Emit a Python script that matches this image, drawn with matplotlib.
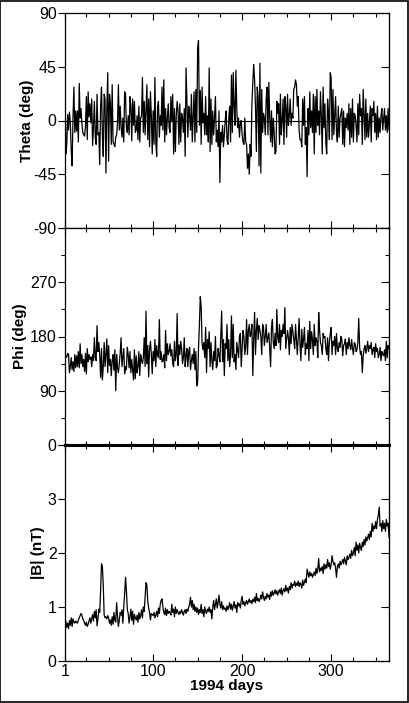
import numpy as np
import matplotlib.pyplot as plt
from matplotlib.ticker import MultipleLocator, FixedLocator

plt.rcParams['font.family'] = ['Liberation Sans', 'DejaVu Sans']

# daily values, 1994
theta = [
    27, -28, -20, 5, -8, 7, -2, -25, -38, 3, 28, -10, 8, -9, 8, -18, 31, 2, 10, -3,
    -10, -12, -13, -5, 20, -16, 24, 3, 14, -2, 18, -21, -5, 16, -14, -20, 22, -12, -10, -37,
    12, 28, -12, -30, 22, 18, -44, 10, 40, -34, 22, 14, -20, 30, -18, -20, -22, -14, -12, -2,
    30, -8, 12, -5, -14, 2, -18, 24, 22, -6, -10, 4, -12, 20, 12, -17, 18, -4, 16, -10,
    -8, 4, -16, 12, -18, 2, 4, 36, -10, 16, -12, 10, 30, -16, 18, -22, 24, 4, -28, 8,
    -20, 36, -18, -30, 12, 16, -14, 4, -4, 28, -8, 34, -18, 10, -12, 2, 14, -6, -10, 20,
    0, 22, -28, 10, -26, 4, 16, 8, -20, 14, -18, 6, 2, -10, 10, -30, 44, 14, -14, 12,
    4, -8, 22, -18, 2, 24, -18, 26, -10, 60, 67, -4, 25, -20, 28, -2, 6, -12, 20, -12,
    4, -18, 44, -26, 18, -20, 8, -12, 2, 20, -18, -8, -22, 8, -52, -10, -18, -4, -22, -12,
    0, 8, -16, -20, 2, 12, -18, 38, -10, 40, 12, -4, 42, 10, -6, 2, -14, -2, 0, -12,
    -18, -20, 2, -18, -20, -40, -28, -45, -20, -30, 14, 32, 47, 34, 12, -26, 28, 20, -38, 48,
    -44, 26, -10, 6, 2, -12, 18, 28, -12, 32, 2, -18, 8, -22, 2, -10, -28, -26, 16, 6,
    14, -20, 22, -12, 0, 18, -20, 20, 12, -14, 22, -4, 4, 18, -4, 6, 2, 26, 28, 34,
    30, 12, 20, -8, -16, -16, -22, 18, -4, 20, -20, -6, -47, 10, -12, 24, -6, 8, -10, 22,
    -28, 20, -10, 26, -4, 8, -12, 24, 4, -28, 28, -6, 14, -18, -28, 18, 6, -16, 40, 36,
    -16, 26, -12, 4, 20, -10, -18, 12, -14, 2, 6, 10, -20, 8, -22, 2, -6, 6, -8, 14,
    -20, 10, -14, 18, -18, 6, 4, -4, -18, 14, -12, 22, 4, 10, -20, 26, 4, -16, 18, -14,
    6, -14, -2, 12, -18, 10, 4, 16, -10, 6, -16, 12, -14, 2, -10, 4, 10, -8, 2, 10,
    -8, 4, -10, 10, -8,
]

phi = [
    140, 148, 146, 152, 150, 120, 130, 145, 125, 138, 122, 150, 128, 148, 130, 155, 128, 168, 135, 150,
    130, 142, 122, 152, 118, 160, 138, 150, 142, 146, 130, 150, 140, 178, 145, 140, 198, 155, 170, 150,
    112, 160, 108, 130, 170, 130, 150, 176, 120, 165, 132, 142, 115, 140, 150, 124, 158, 90, 150, 128,
    120, 135, 152, 178, 130, 146, 160, 118, 130, 125, 162, 150, 128, 155, 120, 142, 125, 108, 158, 110,
    148, 120, 130, 155, 115, 150, 140, 135, 145, 178, 130, 222, 135, 165, 113, 160, 172, 150, 118, 155,
    140, 175, 130, 165, 150, 145, 208, 142, 155, 138, 140, 150, 128, 190, 140, 168, 150, 155, 168, 148,
    158, 135, 130, 172, 140, 150, 218, 132, 166, 150, 172, 160, 135, 145, 178, 130, 148, 160, 130, 155,
    162, 125, 140, 150, 135, 160, 125, 155, 98, 104, 160, 200, 246, 228, 168, 158, 170, 145, 195, 120,
    175, 160, 188, 130, 170, 140, 125, 155, 140, 180, 128, 132, 160, 150, 138, 178, 222, 138, 175, 115,
    168, 160, 200, 140, 175, 130, 150, 214, 145, 200, 138, 150, 125, 170, 158, 145, 180, 185, 130, 160,
    190, 180, 150, 165, 208, 150, 190, 200, 180, 185, 200, 115, 178, 220, 150, 190, 210, 175, 198, 190,
    180, 150, 200, 195, 165, 180, 200, 170, 178, 186, 160, 130, 195, 208, 170, 160, 185, 165, 225, 178,
    170, 200, 158, 190, 180, 200, 185, 228, 160, 175, 190, 178, 150, 195, 168, 200, 188, 175, 160, 200,
    175, 150, 178, 210, 168, 140, 192, 162, 175, 195, 150, 168, 160, 190, 140, 205, 160, 188, 175, 150,
    200, 165, 178, 172, 145, 220, 190, 170, 165, 150, 185, 178, 180, 160, 150, 178, 140, 170, 185, 195,
    150, 172, 165, 180, 150, 185, 160, 155, 170, 162, 180, 175, 148, 165, 168, 176, 150, 170, 160, 178,
    165, 158, 175, 160, 150, 170, 168, 155, 158, 170, 210, 162, 150, 155, 120, 148, 160, 165, 152, 160,
    172, 155, 165, 160, 170, 150, 158, 162, 145, 168, 155, 160, 145, 150, 162, 140, 155, 150, 148, 158,
    140, 172, 145, 165, 160,
]

bmag = [
    0.72, 0.74, 0.62, 0.70, 0.60, 0.75, 0.66, 0.80, 0.64, 0.78, 0.72, 0.70, 0.74, 0.72, 0.70, 0.76, 0.80, 0.84, 0.88, 0.85,
    0.78, 0.75, 0.70, 0.66, 0.72, 0.64, 0.68, 0.74, 0.80, 0.70, 0.78, 0.86, 0.74, 0.92, 0.80, 0.95, 0.65, 0.78, 0.96, 0.90,
    1.30, 1.80, 1.75, 1.40, 0.85, 0.80, 0.82, 0.78, 0.84, 0.80, 0.70, 0.76, 0.66, 0.82, 0.68, 0.90, 0.75, 0.72, 1.08, 0.82,
    0.64, 0.76, 0.90, 0.85, 0.95, 0.70, 1.00, 1.25, 1.55, 1.30, 0.95, 0.88, 0.70, 0.82, 0.96, 0.75, 0.92, 0.68, 0.86, 0.80,
    0.76, 0.85, 0.72, 0.90, 0.78, 0.84, 0.95, 0.80, 1.00, 0.92, 1.20, 1.45, 1.40, 1.10, 0.98, 0.90, 0.76, 0.88, 0.86, 0.84,
    0.90, 0.80, 0.85, 0.92, 0.82, 0.98, 0.88, 1.05, 1.12, 1.15, 1.00, 0.90, 0.86, 0.98, 0.84, 0.95, 0.88, 0.92, 0.90, 0.85,
    1.05, 0.90, 0.96, 0.82, 1.00, 0.88, 0.95, 0.90, 0.86, 0.92, 0.88, 0.95, 0.90, 0.85, 0.92, 0.95, 0.88, 0.96, 0.92, 1.00,
    1.05, 1.18, 1.00, 1.12, 0.95, 1.05, 0.92, 1.00, 0.90, 0.98, 0.86, 0.95, 0.90, 1.05, 0.88, 0.95, 0.82, 1.00, 0.92, 0.88,
    0.96, 0.92, 1.00, 0.90, 0.95, 0.78, 1.00, 1.12, 0.95, 1.05, 1.15, 0.98, 1.08, 1.22, 1.05, 0.98, 1.10, 0.95, 1.02, 0.96,
    0.98, 0.92, 1.02, 0.95, 1.00, 1.08, 0.96, 1.05, 0.94, 1.02, 1.10, 0.98, 1.04, 0.90, 1.08, 1.02, 1.06, 0.98, 1.12, 1.20,
    1.05, 1.10, 1.02, 1.08, 1.12, 1.05, 1.10, 1.15, 1.08, 1.12, 1.06, 1.14, 1.10, 1.18, 1.08, 1.25, 1.12, 1.16, 1.10, 1.14,
    1.22, 1.15, 1.28, 1.18, 1.12, 1.20, 1.15, 1.25, 1.18, 1.22, 1.14, 1.28, 1.20, 1.30, 1.22, 1.26, 1.32, 1.24, 1.30, 1.22,
    1.28, 1.32, 1.25, 1.35, 1.22, 1.30, 1.34, 1.28, 1.40, 1.30, 1.35, 1.26, 1.38, 1.32, 1.45, 1.35, 1.42, 1.40, 1.48, 1.38,
    1.44, 1.40, 1.48, 1.38, 1.45, 1.42, 1.35, 1.50, 1.40, 1.46, 1.52, 1.45, 1.70, 1.62, 1.55, 1.65, 1.58, 1.62, 1.55, 1.60,
    1.65, 1.58, 1.72, 1.62, 1.70, 1.90, 1.65, 1.72, 1.68, 1.75, 1.62, 1.80, 1.70, 1.78, 1.72, 1.88, 1.75, 1.82, 1.70, 1.78,
    1.95, 1.85, 1.78, 1.82, 1.72, 1.55, 1.75, 1.80, 1.72, 1.85, 1.78, 1.82, 1.88, 1.80, 1.92, 1.85, 1.78, 1.95, 1.88, 1.92,
    1.98, 1.90, 2.05, 1.95, 2.00, 2.10, 1.95, 2.20, 2.05, 2.15, 2.00, 2.18, 2.10, 2.05, 2.20, 2.12, 2.25, 2.15, 2.30, 2.22,
    2.28, 2.35, 2.25, 2.40, 2.30, 2.55, 2.40, 2.50, 2.45, 2.58, 2.45, 2.62, 2.70, 2.85, 2.50, 2.55, 2.40, 2.60, 2.45, 2.55,
    2.40, 2.62, 2.50, 2.55, 2.30,
]

days = np.arange(1, len(theta) + 1)
xticks = [1, 100, 200, 300]


def style_axis(ax, ylim, yticks, ylabels, yminor=None):
    ax.set_xlim(1, 365)
    ax.set_ylim(*ylim)
    ax.set_xticks(xticks)
    ax.xaxis.set_minor_locator(FixedLocator([25, 50, 75, 125, 150, 175, 225, 250, 275, 325, 350]))
    ax.set_yticks(yticks)
    ax.set_yticklabels(ylabels)
    if yminor:
        ax.yaxis.set_minor_locator(MultipleLocator(yminor))
    ax.tick_params(axis='x', which='both', direction='in', top=True, bottom=True)
    ax.tick_params(axis='x', which='major', length=5, width=0.8, labelsize=11.5, pad=2)
    ax.tick_params(axis='x', which='minor', length=3, width=0.8)
    ax.tick_params(axis='y', which='major', direction='out', length=5, width=0.8, labelsize=11.5, pad=1)
    ax.tick_params(axis='y', which='minor', direction='out', length=3, width=0.8)
    # right-hand ticks point inward
    sec = ax.secondary_yaxis('right')
    sec.set_yticks(yticks)
    sec.tick_params(axis='y', which='major', direction='in', length=6, width=0.8, labelright=False)
    if yminor:
        sec.yaxis.set_minor_locator(MultipleLocator(yminor))
        sec.tick_params(axis='y', which='minor', direction='in', length=3, width=0.8)
    for s in ax.spines.values():
        s.set_linewidth(0.9)


fig = plt.figure(figsize=(4.09, 7.03), dpi=100)
left, width = 65 / 409, 324 / 409

ax1 = fig.add_axes([left, 1 - 228 / 703, width, 215 / 703])
ax2 = fig.add_axes([left, 1 - 445 / 703, width, 217 / 703])
ax3 = fig.add_axes([left, 1 - 661 / 703, width, 216 / 703])

# Theta
ax1.axhline(0, color='black', lw=0.8)
ax1.plot(days, theta, color='black', lw=0.9)
style_axis(ax1, (-90, 90), [-90, -45, 0, 45, 90], ['-90', '-45', '0', '45', '90'])
ax1.set_ylabel('Theta (deg)', fontsize=11, fontweight='bold')
ax1.tick_params(axis='x', labelbottom=False)

# Phi
ax2.plot(days, phi, color='black', lw=0.9)
style_axis(ax2, (0, 360), [0, 90, 180, 270, 360], ['0', '90', '180', '270', ''], yminor=45)
ax2.set_ylabel('Phi (deg)', fontsize=11, fontweight='bold')
ax2.tick_params(axis='x', labelbottom=False)
ax2.spines['bottom'].set_linewidth(2.2)

# |B|
ax3.plot(days, bmag, color='black', lw=0.9)
style_axis(ax3, (0, 4), [0, 1, 2, 3, 4], ['0', '1', '2', '3', ''])
ax3.set_ylabel('|B| (nT)', fontsize=11, fontweight='bold')
ax3.set_xlabel('1994 days', fontsize=11, fontweight='bold', labelpad=0)
ax3.spines['top'].set_linewidth(2.2)

ax1.yaxis.set_label_coords(-0.096, 0.5)
ax2.yaxis.set_label_coords(-0.117, 0.5)
ax3.yaxis.set_label_coords(-0.062, 0.5)

# outer frame
fig.patches.append(plt.Rectangle((0.001, 0.001), 0.996, 0.997, transform=fig.transFigure,
                                 fill=False, edgecolor='black', lw=1.2))

fig.savefig('out.png', dpi=100)
